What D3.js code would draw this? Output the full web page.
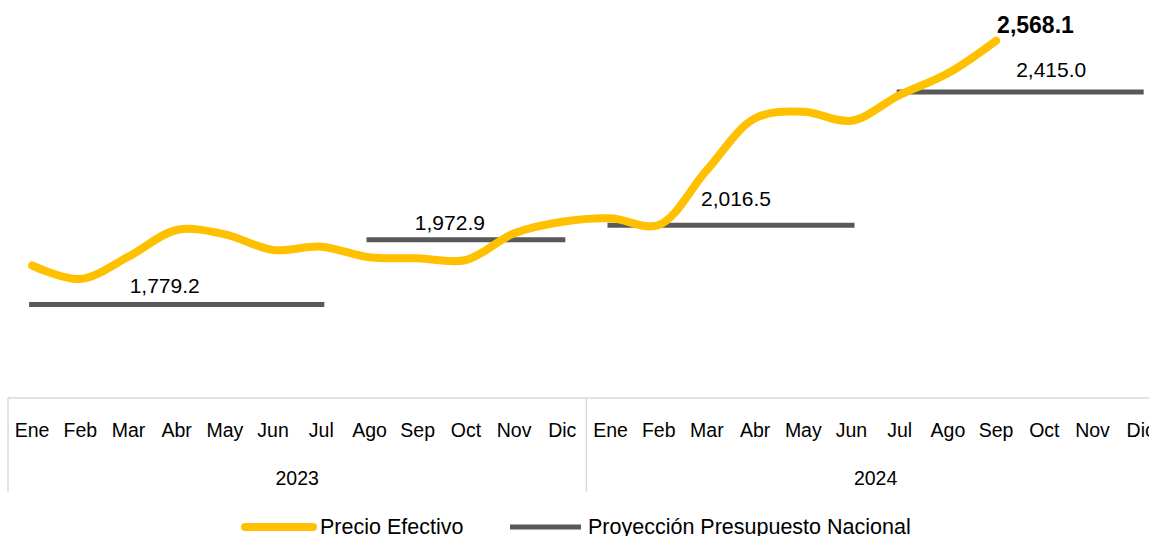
<!DOCTYPE html>
<html>
<head>
<meta charset="utf-8">
<script src="https://cdn.jsdelivr.net/npm/d3@7"></script>
<style>
  html, body { margin: 0; padding: 0; background: #fff; }
  svg { display: block; font-family: "Liberation Sans", Arial, sans-serif; }
</style>
</head>
<body>
<svg id="chart" width="1149" height="536"></svg>
<script>
// ---- data ----
const months = ["Ene","Feb","Mar","Abr","May","Jun","Jul","Ago","Sep","Oct","Nov","Dic"];
const years = ["2023","2024"];
const precioEfectivo = [1896.1, 1855.7, 1922.4, 2002.2, 1989.3, 1942.4, 1952.3, 1920.6, 1917.6, 1912.5, 1992.3, 2027.0,
                        2037.1, 2017.1, 2181.5, 2336.0, 2355.8, 2328.9, 2405.7, 2470.6, 2568.1];
const proyeccionValues = [1779.2, 1972.9, 2016.5, 2415.0];
const proyeccionStart = [0, 7, 12, 18];   // month index (0 = Ene 2023)
const proyeccionEnd   = [6, 11, 17, 23];
const seriesNames = ["Precio Efectivo", "Proyección Presupuesto Nacional"];

// ---- layout ----
const svg = d3.select("#chart");
const bandW = 48.2;
const x0 = 8;
const allMonths = years.flatMap(y => months.map(m => y + "-" + m));
const x = d3.scaleBand().domain(d3.range(allMonths.length)).range([x0, x0 + bandW * allMonths.length]).padding(0);
const cx = i => x(i) + x.bandwidth() / 2;
const y = d3.scaleLinear().domain([1500, 2600]).range([398, 30]);

const fmt = d3.format(",.1f");
const YELLOW = "#FFC000", GRAY = "#595959", AXIS = "#D9D9D9";

// axis line & group separators
svg.append("line").attr("x1", x0).attr("x2", x.range()[1]).attr("y1", y(1500)).attr("y2", y(1500))
  .attr("stroke", AXIS).attr("stroke-width", 1.5);
svg.selectAll("line.sep").data(d3.range(years.length + 1)).join("line").attr("class", "sep")
  .attr("x1", i => x0 + i * bandW * 12).attr("x2", i => x0 + i * bandW * 12)
  .attr("y1", y(1500)).attr("y2", 492).attr("stroke", AXIS).attr("stroke-width", 1.5);

// month labels
svg.selectAll("text.month").data(allMonths).join("text").attr("class", "month")
  .attr("x", (d, i) => cx(i)).attr("y", 437).attr("text-anchor", "middle")
  .attr("font-size", 19.5).attr("fill", "#000").text(d => d.split("-")[1]);
// year labels
svg.selectAll("text.year").data(years).join("text").attr("class", "year")
  .attr("x", (d, i) => x0 + (i + 0.5) * bandW * 12).attr("y", 485).attr("text-anchor", "middle")
  .attr("font-size", 19.5).attr("fill", "#000").text(d => d);

// projection segments
const segs = proyeccionValues.map((v, k) => ({ v, s: proyeccionStart[k], e: proyeccionEnd[k] }));
svg.selectAll("line.proj").data(segs).join("line").attr("class", "proj")
  .attr("x1", d => cx(d.s) - 3).attr("x2", d => cx(d.e) + 3)
  .attr("y1", d => y(d.v)).attr("y2", d => y(d.v))
  .attr("stroke", GRAY).attr("stroke-width", 5);

// projection labels (manual placement like the original)
const labDx = [-12, -16, 5, 31];
const labDy = [-12, -10, -19, -15];
svg.selectAll("text.projlab").data(segs).join("text").attr("class", "projlab")
  .attr("x", (d, k) => (cx(d.s) + cx(d.e)) / 2 + labDx[k])
  .attr("y", (d, k) => y(d.v) + labDy[k])
  .attr("text-anchor", "middle").attr("font-size", 21).attr("fill", "#000")
  .text(d => fmt(d.v));

// precio efectivo line
const line = d3.line().x((d, i) => cx(i)).y(d => y(d)).curve(d3.curveCatmullRom.alpha(0.5));
svg.append("path").datum(precioEfectivo).attr("d", line)
  .attr("fill", "none").attr("stroke", YELLOW).attr("stroke-width", 8)
  .attr("stroke-linecap", "round").attr("stroke-linejoin", "round");

// last value label
const lastI = precioEfectivo.length - 1;
svg.append("text").attr("x", cx(lastI) + 1).attr("y", y(precioEfectivo[lastI]) - 8)
  .attr("font-size", 23).attr("font-weight", "bold").attr("fill", "#000")
  .text(fmt(precioEfectivo[lastI]));

// legend
const leg = [
  { name: seriesNames[0], color: YELLOW, w: 8, cap: "round", lx1: 245, lx2: 313, tx: 320 },
  { name: seriesNames[1], color: GRAY, w: 5, cap: "butt", lx1: 510, lx2: 581, tx: 588 }
];
const lg = svg.selectAll("g.leg").data(leg).join("g").attr("class", "leg");
lg.append("line").attr("x1", d => d.lx1).attr("x2", d => d.lx2).attr("y1", 527).attr("y2", 527)
  .attr("stroke", d => d.color).attr("stroke-width", d => d.w).attr("stroke-linecap", d => d.cap);
lg.append("text").attr("x", d => d.tx).attr("y", 534).attr("font-size", 21.5).attr("fill", "#000")
  .text(d => d.name);
</script>
</body>
</html>
